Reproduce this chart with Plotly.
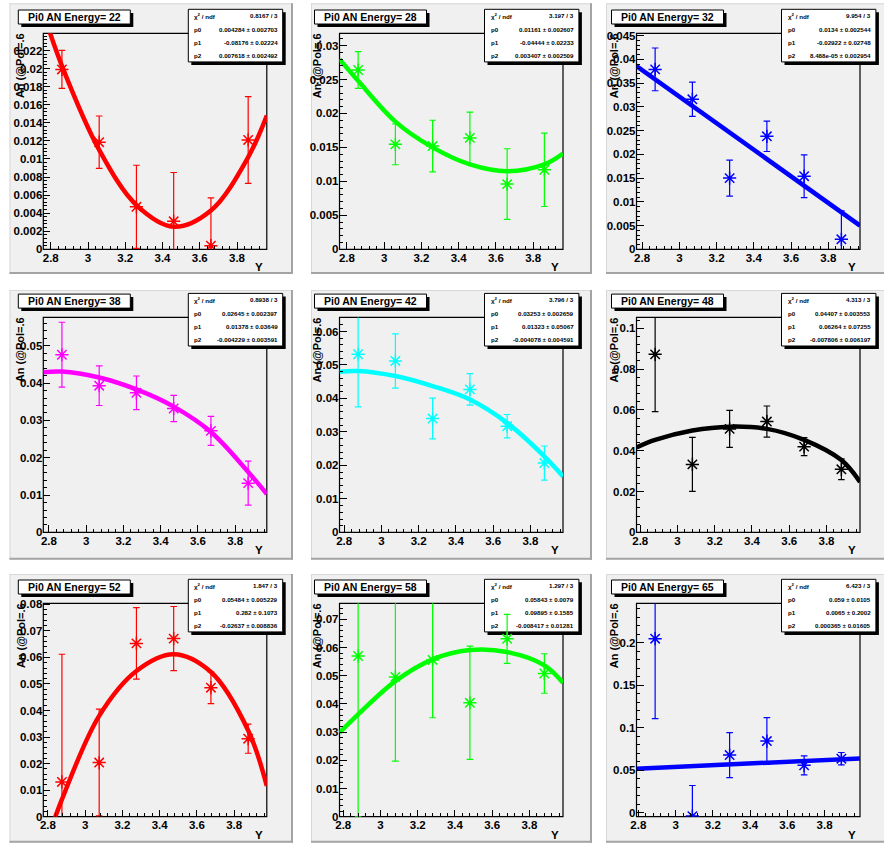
import plotly.graph_objects as go

# ---------------- data ----------------
energies = [22, 28, 32, 38, 42, 48, 52, 58, 65]

y22 = [2.86, 3.06, 3.26, 3.46, 3.66, 3.86]
an22 = [0.0199, 0.01185, 0.0047, 0.0031, 0.0004, 0.0121]
err22 = [0.0021, 0.0029, 0.0046, 0.0054, 0.0053, 0.0048]
fitx22 = [2.76, 2.86, 3.06, 3.26, 3.46, 3.66, 3.86, 3.96]
fity22 = [0.0262, 0.0203, 0.0110, 0.0049, 0.0025, 0.0043, 0.0102, 0.0148]

y28 = [2.86, 3.06, 3.26, 3.46, 3.66, 3.86]
an28 = [0.0264, 0.01545, 0.0152, 0.0164, 0.0096, 0.0117]
err28 = [0.0027, 0.0030, 0.0038, 0.0038, 0.0052, 0.0054]
fitx28 = [2.76, 2.86, 3.06, 3.26, 3.46, 3.66, 3.86, 3.96]
fity28 = [0.0280, 0.0248, 0.0188, 0.0150, 0.0125, 0.0115, 0.0125, 0.0141]

y32 = [2.87, 3.07, 3.27, 3.47, 3.67, 3.87]
an32 = [0.0379, 0.0316, 0.0150, 0.0238, 0.0154, 0.0021]
err32 = [0.0045, 0.0036, 0.0038, 0.0032, 0.0045, 0.0060]
fitx32 = [2.77, 3.97]
fity32 = [0.0386, 0.0050]

y38 = [2.87, 3.07, 3.27, 3.47, 3.67, 3.87]
an38 = [0.0476, 0.0393, 0.0374, 0.0332, 0.0272, 0.0132]
err38 = [0.0087, 0.0053, 0.0045, 0.0035, 0.0039, 0.0059]
fitx38 = [2.77, 2.87, 3.07, 3.27, 3.47, 3.67, 3.87, 3.97]
fity38 = [0.0429, 0.0431, 0.0415, 0.0383, 0.0337, 0.0269, 0.0162, 0.0103]

y42 = [2.875, 3.075, 3.275, 3.475, 3.675, 3.875]
an42 = [0.0532, 0.0512, 0.0340, 0.0427, 0.0317, 0.0207]
err42 = [0.0157, 0.0081, 0.0061, 0.0047, 0.0035, 0.0051]
fitx42 = [2.775, 2.875, 3.075, 3.275, 3.475, 3.675, 3.875, 3.975]
fity42 = [0.0480, 0.0482, 0.0467, 0.0437, 0.0397, 0.0327, 0.0227, 0.0167]

y48 = [2.88, 3.08, 3.28, 3.48, 3.68, 3.88]
an48 = [0.0872, 0.0333, 0.0507, 0.0543, 0.0420, 0.0309]
err48 = [0.0280, 0.0132, 0.0091, 0.0076, 0.0044, 0.0051]
fitx48 = [2.78, 2.88, 3.08, 3.28, 3.48, 3.68, 3.88, 3.98]
fity48 = [0.0416, 0.0453, 0.0499, 0.0518, 0.0507, 0.0453, 0.0354, 0.0247]

y52 = [2.875, 3.075, 3.275, 3.475, 3.675, 3.875]
an52 = [0.0131, 0.0204, 0.0653, 0.0671, 0.0486, 0.0294]
err52 = [0.0481, 0.0201, 0.0135, 0.0121, 0.0060, 0.0055]
fitx52 = [2.775, 2.875, 3.075, 3.275, 3.475, 3.675, 3.875, 3.975]
fity52 = [-0.013, 0.0065, 0.0380, 0.0549, 0.0612, 0.0545, 0.0325, 0.0116]

y58 = [2.88, 3.08, 3.28, 3.48, 3.68, 3.88]
an58 = [0.0570, 0.0496, 0.0556, 0.0404, 0.0631, 0.0508]
err58 = [0.0570, 0.0299, 0.0205, 0.0201, 0.0087, 0.0070]
fitx58 = [2.78, 2.88, 3.08, 3.28, 3.48, 3.68, 3.88, 3.98]
fity58 = [0.0298, 0.0363, 0.0481, 0.0558, 0.0591, 0.0584, 0.0537, 0.0475]

y65 = [2.89, 3.09, 3.29, 3.49, 3.69, 3.89]
an65 = [0.2047, -0.0040, 0.0678, 0.0843, 0.0557, 0.0635]
err65 = [0.0941, 0.0360, 0.0265, 0.0275, 0.0112, 0.0073]
fitx65 = [2.79, 3.99]
fity65 = [0.0518, 0.0639]

chi2_ndf = ["0.8167 / 3", "3.197 / 3", "9.954 / 3", "0.8938 / 3", "3.796 / 3",
            "4.313 / 3", "1.847 / 3", "1.297 / 3", "6.423 / 3"]
p0_txt = ["0.004284 ± 0.002703", "0.01161 ± 0.002607", "0.0134 ± 0.002544",
          "0.02645 ± 0.002397", "0.03253 ± 0.002659", "0.04407 ± 0.003553",
          "0.05484 ± 0.005229", "0.05843 ± 0.0079", "0.059 ± 0.0105"]
p1_txt = ["-0.08176 ± 0.02224", "-0.04444 ± 0.02233", "-0.02922 ± 0.02748",
          "0.01378 ± 0.03649", "0.01323 ± 0.05067", "0.06264 ± 0.07255",
          "0.282 ± 0.1073", "0.09895 ± 0.1585", "0.0065 ± 0.2002"]
p2_txt = ["0.007618 ± 0.002492", "0.003407 ± 0.002509", "8.488e-05 ± 0.002954",
          "-0.004229 ± 0.003591", "-0.004078 ± 0.004591", "-0.007806 ± 0.006197",
          "-0.02637 ± 0.008836", "-0.008417 ± 0.01281", "0.000365 ± 0.01605"]

y_title = "An (@Pol=.6"
x_title = "Y"

panels = [
    (y22, an22, err22, fitx22, fity22),
    (y28, an28, err28, fitx28, fity28),
    (y32, an32, err32, fitx32, fity32),
    (y38, an38, err38, fitx38, fity38),
    (y42, an42, err42, fitx42, fity42),
    (y48, an48, err48, fitx48, fity48),
    (y52, an52, err52, fitx52, fity52),
    (y58, an58, err58, fitx58, fity58),
    (y65, an65, err65, fitx65, fity65),
]

# ---------------- style / layout ----------------
colors = ["#ff0000", "#00ff00", "#0000ff", "#ff00ff", "#00ffff",
          "#000000", "#ff0000", "#00ff00", "#0000ff"]
x_ranges = [[2.76, 3.96], [2.76, 3.96], [2.77, 3.97], [2.77, 3.97], [2.775, 3.975],
            [2.78, 3.98], [2.775, 3.975], [2.78, 3.98], [2.79, 3.99]]
y_ranges = [[0, 0.0239], [0, 0.0318], [0, 0.0455], [0, 0.0576], [0, 0.0642],
            [0, 0.1053], [0, 0.0804], [0, 0.0757], [-0.0047, 0.2463]]
y_dticks = [0.002, 0.005, 0.005, 0.01, 0.01, 0.02, 0.01, 0.01, 0.05]

W, H = 884, 852
frame_left = [43.3, 339.5, 636.5]
frame_w = 223.5
frame_top = [33.3, 317.4, 603.3]
frame_bot = [249.3, 532.4, 816.7]
pad_x = [(9.5, 293.0), (311.0, 592.0), (606.0, 892.0)]
pad_y = [(3.3, 274.0), (290.0, 559.7), (574.0, 842.7)]

PAD_FILL = "#f0f0f0"
FONT = "Liberation Sans, Arial, sans-serif"


def fx(px):
    return px / W


def fy(py):
    return 1 - py / H


fig = go.Figure()
shapes = []
annots = []
layout = {}

for i in range(9):
    r, c = divmod(i, 3)
    k = "" if i == 0 else str(i + 1)
    xs, an, er, fitx, fity = panels[i]
    col = colors[i]
    fL = frame_left[c]
    fR = fL + frame_w
    fT = frame_top[r]
    fB = frame_bot[r]
    pL, pR = pad_x[c]
    pT, pB = pad_y[r]

    # pad with bevel
    shapes.append(dict(type="rect", xref="paper", yref="paper", layer="below",
                       x0=fx(pL), x1=fx(pR), y0=fy(pB), y1=fy(pT),
                       fillcolor=PAD_FILL, line=dict(width=0)))
    shapes.append(dict(type="line", xref="paper", yref="paper", layer="below",
                       x0=fx(pL), x1=fx(pR), y0=fy(pT + 0.5), y1=fy(pT + 0.5),
                       line=dict(color="#d8d8d8", width=1)))
    shapes.append(dict(type="line", xref="paper", yref="paper", layer="below",
                       x0=fx(pL + 0.5), x1=fx(pL + 0.5), y0=fy(pB), y1=fy(pT),
                       line=dict(color="#d8d8d8", width=1)))
    shapes.append(dict(type="line", xref="paper", yref="paper", layer="below",
                       x0=fx(pL), x1=fx(pR), y0=fy(pB - 1), y1=fy(pB - 1),
                       line=dict(color="#a4a4a4", width=2)))
    shapes.append(dict(type="line", xref="paper", yref="paper", layer="below",
                       x0=fx(pR - 1), x1=fx(pR - 1), y0=fy(pB), y1=fy(pT),
                       line=dict(color="#a4a4a4", width=2)))
    # frame
    shapes.append(dict(type="rect", xref="paper", yref="paper", layer="below",
                       x0=fx(fL), x1=fx(fR), y0=fy(fB), y1=fy(fT),
                       line=dict(color="black", width=1.2)))
    # title box
    tx0, tx1, ty0, ty1 = fL - 25, fL + 87, fT - 23.3, fT - 9.3
    shapes.append(dict(type="rect", xref="paper", yref="paper", layer="below",
                       x0=fx(tx0 + 3), x1=fx(tx1 + 3), y0=fy(ty1 + 3), y1=fy(ty0 + 3),
                       fillcolor="black", line=dict(width=0)))
    shapes.append(dict(type="rect", xref="paper", yref="paper", layer="below",
                       x0=fx(tx0), x1=fx(tx1), y0=fy(ty1), y1=fy(ty0),
                       fillcolor="white", line=dict(color="black", width=1)))
    annots.append(dict(xref="paper", yref="paper", x=fx((tx0 + tx1) / 2), y=fy((ty0 + ty1) / 2),
                       text=f"Pi0 AN Energy= {energies[i]}", showarrow=False,
                       xanchor="center", yanchor="middle",
                       font=dict(family=FONT, size=10.5, color="black", weight="bold")))
    # stats box
    sx0, sx1, sy0, sy1 = fL + 145, fL + 239.4, fT - 24, fT + 28.6
    shapes.append(dict(type="rect", xref="paper", yref="paper", layer="below",
                       x0=fx(sx0 + 3), x1=fx(sx1 + 3), y0=fy(sy1 + 3), y1=fy(sy0 + 3),
                       fillcolor="black", line=dict(width=0)))
    shapes.append(dict(type="rect", xref="paper", yref="paper", layer="below",
                       x0=fx(sx0), x1=fx(sx1), y0=fy(sy1), y1=fy(sy0),
                       fillcolor="white", line=dict(color="black", width=1)))
    rows = [("χ<sup>2</sup> / ndf", chi2_ndf[i]), ("p0", p0_txt[i]),
            ("p1", p1_txt[i]), ("p2", p2_txt[i])]
    rh = (sy1 - sy0) / 4
    for j, (lab, val) in enumerate(rows):
        yc = sy0 + rh * (j + 0.5)
        annots.append(dict(xref="paper", yref="paper", x=fx(sx0 + 4), y=fy(yc),
                           text=lab, showarrow=False, xanchor="left", yanchor="middle",
                           font=dict(family=FONT, size=6.2, color="black", weight="bold")))
        annots.append(dict(xref="paper", yref="paper", x=fx(sx1 - 2.5), y=fy(yc),
                           text=val, showarrow=False, xanchor="right", yanchor="middle",
                           font=dict(family=FONT, size=6.2, color="black", weight="bold")))
    # axis titles
    annots.append(dict(xref="paper", yref="paper", x=fx(fL - 23), y=fy(fT - 2),
                       text=y_title, showarrow=False, textangle=-90,
                       xanchor="center", yanchor="top",
                       font=dict(family=FONT, size=11, color="black", weight="bold")))
    annots.append(dict(xref="paper", yref="paper", x=fx(fR - 2), y=fy(fB + 18),
                       text=x_title, showarrow=False, xanchor="right", yanchor="middle",
                       font=dict(family=FONT, size=11.5, color="black", weight="bold")))

    # traces
    fig.add_trace(go.Scatter(
        x=xs, y=an, mode="markers", xaxis="x" + k, yaxis="y" + k,
        marker=dict(symbol="asterisk-open", size=11, color=col,
                    line=dict(color=col, width=1.5)),
        error_y=dict(type="data", array=er, visible=True, color=col,
                     thickness=1.2, width=3.3),
        showlegend=False))
    fig.add_trace(go.Scatter(
        x=fitx, y=fity, mode="lines", xaxis="x" + k, yaxis="y" + k,
        line=dict(color=col, width=4.5, shape="spline", smoothing=1.0),
        showlegend=False))

    tickfont = dict(family=FONT, size=11.5, color="black", weight="bold")
    layout["xaxis" + k] = dict(
        domain=[fx(fL), fx(fR)], range=x_ranges[i], anchor="y" + k,
        showgrid=False, zeroline=False, showline=False,
        ticks="inside", ticklen=7, tickwidth=1, tickcolor="black",
        tick0=2.8, dtick=0.2, tickfont=tickfont,
        minor=dict(ticks="inside", ticklen=3.5, dtick=0.04, tickcolor="black", tickwidth=1),
        automargin=False, fixedrange=True)
    layout["yaxis" + k] = dict(
        domain=[fy(fB), fy(fT)], range=y_ranges[i], anchor="x" + k,
        showgrid=False, zeroline=False, showline=False,
        ticks="inside", ticklen=7, tickwidth=1, tickcolor="black",
        tick0=0, dtick=y_dticks[i], tickfont=tickfont,
        minor=dict(ticks="inside", ticklen=3.5, dtick=y_dticks[i] / 5,
                   tickcolor="black", tickwidth=1),
        automargin=False, fixedrange=True)

fig.update_layout(
    width=W, height=H, margin=dict(l=0, r=0, t=0, b=0),
    paper_bgcolor="white", plot_bgcolor="rgba(0,0,0,0)",
    shapes=shapes, annotations=annots, showlegend=False, **layout)

fig.write_html("out.html")
